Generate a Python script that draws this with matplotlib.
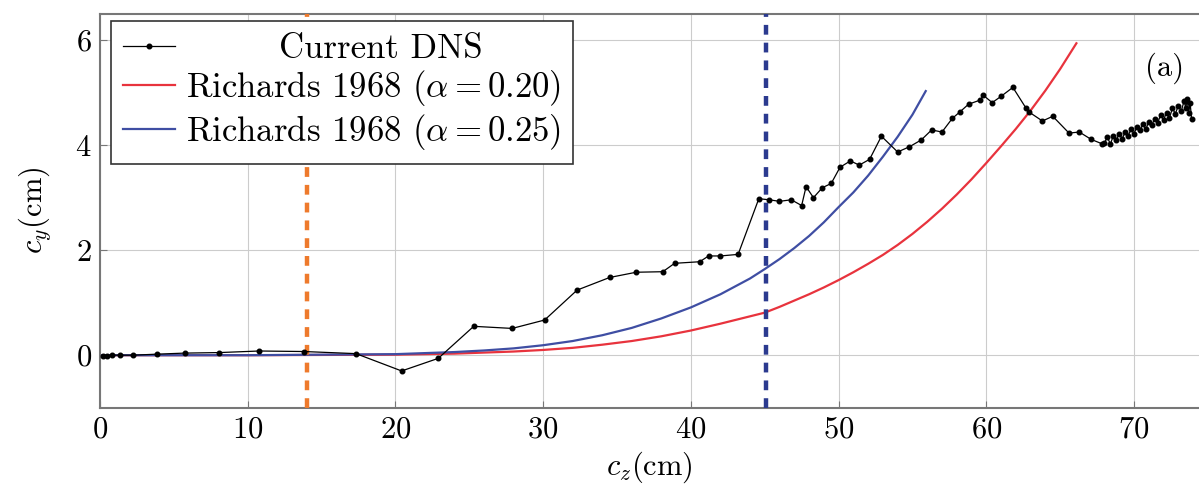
import matplotlib
matplotlib.use("Agg")
import matplotlib.pyplot as plt

plt.rcParams['font.family'] = 'serif'
plt.rcParams['font.serif'] = ['cmr10', 'DejaVu Serif']
plt.rcParams['mathtext.fontset'] = 'cm'
plt.rcParams['axes.formatter.use_mathtext'] = True

# Current DNS trajectory
dns_x = [0.2, 0.45, 0.79, 1.35, 2.26, 3.84, 5.75, 8.06, 10.79, 13.81, 17.33,
         20.42, 22.9, 25.3, 27.9, 30.1, 32.3, 34.5, 36.3, 38.1, 38.9, 40.6,
         41.2, 42.0, 43.2, 44.6, 45.3, 46.0, 46.8, 47.5, 47.8, 48.3, 48.9,
         49.5, 50.1, 50.8, 51.4, 52.1, 52.9, 54.0, 54.8, 55.6, 56.3, 57.0,
         57.7, 58.2, 58.8, 59.6, 59.8, 60.4, 61.0, 61.8, 62.7, 62.9, 63.8,
         64.5, 65.6, 66.3, 67.1, 67.8, 68.0, 68.2, 68.4, 68.6, 68.8, 69.0,
         69.2, 69.4, 69.6, 69.8, 70.0, 70.2, 70.4, 70.6, 70.8, 71.0, 71.2,
         71.4, 71.6, 71.8, 72.0, 72.2, 72.4, 72.6, 72.8, 73.0, 73.2, 73.4,
         73.5, 73.6, 73.7, 73.8, 73.9]
dns_y = [-0.02, -0.02, 0.0, 0.0, 0.0, 0.02, 0.04, 0.05, 0.08, 0.07, 0.03,
         -0.30, -0.06, 0.55, 0.51, 0.67, 1.24, 1.48, 1.58, 1.59, 1.75, 1.78,
         1.89, 1.89, 1.92, 2.98, 2.96, 2.93, 2.96, 2.85, 3.21, 3.0, 3.19,
         3.27, 3.58, 3.70, 3.62, 3.73, 4.17, 3.87, 3.97, 4.10, 4.29, 4.25,
         4.51, 4.63, 4.78, 4.86, 4.95, 4.81, 4.93, 5.10, 4.70, 4.63, 4.46,
         4.55, 4.23, 4.25, 4.11, 4.03, 4.05, 4.15, 4.02, 4.18, 4.10, 4.22,
         4.12, 4.25, 4.18, 4.30, 4.22, 4.35, 4.28, 4.40, 4.30, 4.45, 4.38,
         4.50, 4.42, 4.58, 4.48, 4.62, 4.52, 4.70, 4.60, 4.75, 4.65, 4.85,
         4.70, 4.88, 4.62, 4.80, 4.50]

# Richards 1968, alpha = 0.20
r20_x = [0, 10, 20, 22, 24, 26, 28, 30, 32, 34, 36, 38, 40, 42, 44, 45, 46,
         47, 48, 49, 50, 51, 52, 53, 54, 55, 56, 57, 58, 59, 60, 61, 62, 63,
         64, 65, 66.1]
r20_y = [0, 0, 0.01, 0.02, 0.03, 0.05, 0.07, 0.10, 0.14, 0.20, 0.27, 0.36,
         0.47, 0.60, 0.74, 0.81, 0.92, 1.04, 1.16, 1.29, 1.43, 1.58, 1.74,
         1.91, 2.10, 2.31, 2.54, 2.79, 3.06, 3.35, 3.66, 3.98, 4.31, 4.66,
         5.04, 5.45, 5.94]

# Richards 1968, alpha = 0.25
r25_x = [0, 10, 20, 22, 24, 26, 28, 30, 32, 34, 36, 38, 40, 42, 44, 45, 46,
         47, 48, 49, 50, 51, 52, 53, 54, 55, 55.9]
r25_y = [0, 0, 0.02, 0.04, 0.06, 0.09, 0.13, 0.19, 0.27, 0.38, 0.52, 0.70,
         0.91, 1.16, 1.46, 1.64, 1.83, 2.04, 2.27, 2.53, 2.82, 3.10, 3.42,
         3.78, 4.16, 4.58, 5.03]

vlines = [14.0, 45.1]
vcolors = ['#ee7a2c', '#2b3a8f']
xticks = [0, 10, 20, 30, 40, 50, 60, 70]
yticks = [0, 2, 4, 6]

fs = 22
fig = plt.figure(figsize=(11.99, 4.96), dpi=100)
ax = fig.add_axes([0.0834, 0.178, 0.9166, 0.794])

ax.grid(True, color='#cccccc', lw=0.8, zorder=0)
ax.set_axisbelow(True)

ax.plot(r20_x, r20_y, color='#e8333d', lw=1.6, zorder=2,
        label=r'Richards 1968 ($\alpha = 0.20$)')
ax.plot(r25_x, r25_y, color='#3f4ea3', lw=1.6, zorder=2,
        label=r'Richards 1968 ($\alpha = 0.25$)')
for xv, c in zip(vlines, vcolors):
    ax.axvline(xv, color=c, lw=3.2, ls=(0, (2.2, 1.8)), zorder=3)
ax.plot(dns_x, dns_y, color='black', lw=0.9, marker='o', ms=3.3,
        zorder=4, label='        Current DNS')

ax.set_xlim(0, 74.4)
ax.set_ylim(-1.0, 6.5)
ax.set_xticks(xticks)
ax.set_yticks(yticks)
ax.tick_params(direction='in', length=5, color='#777777', labelsize=fs,
               pad=6)
for s in ['left', 'bottom', 'top']:
    ax.spines[s].set_color('#777777')
    ax.spines[s].set_linewidth(1.5)
ax.spines['right'].set_visible(False)

ax.set_xlabel(r'$c_z$(cm)', fontsize=fs, labelpad=4)
ax.set_ylabel(r'$c_y$(cm)', fontsize=fs, labelpad=16)
ax.text(72.1, 5.47, '(a)', fontsize=fs, ha='center', va='center')

h, l = ax.get_legend_handles_labels()
order = [2, 0, 1]
leg = ax.legend([h[i] for i in order], [l[i] for i in order],
                loc='upper left', bbox_to_anchor=(0.01, 0.982),
                borderaxespad=0, fontsize=25, fancybox=False,
                edgecolor='#333333', framealpha=1, handlelength=1.5,
                handletextpad=0.3, labelspacing=0.1, borderpad=0.35)
leg.get_frame().set_linewidth(1.2)

fig.savefig('out.png', dpi=100)
